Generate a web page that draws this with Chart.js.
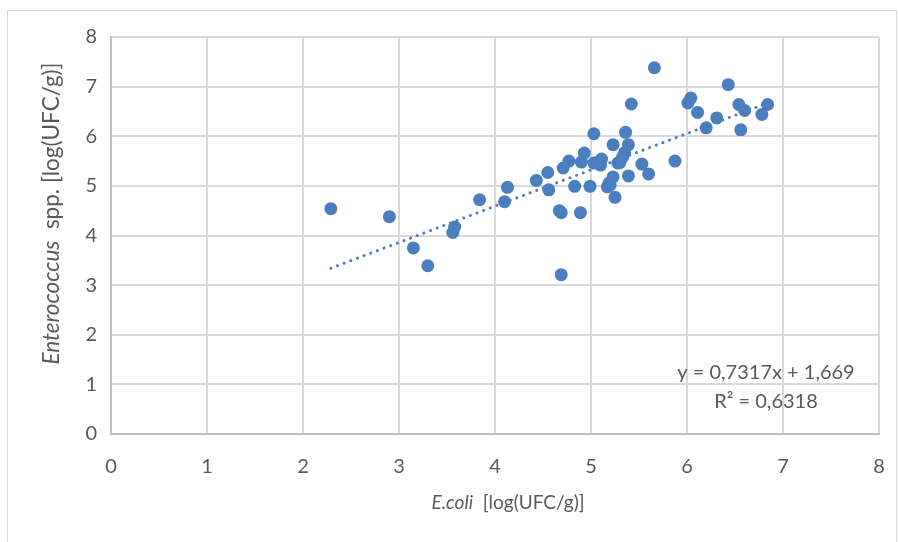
<!DOCTYPE html>
<html lang="pt">
<head>
<meta charset="UTF-8">
<title>E.coli x Enterococcus</title>
<style>
    body { margin: 0; background: #fff; }
    #wrap { position: relative; width: 899px; height: 542px; }
</style>
<script src="https://cdn.jsdelivr.net/npm/chart.js"></script>
</head>
<body>
<div id="wrap"><canvas id="grafico" width="899" height="542"></canvas></div>
<script>
    // E.coli [log(UFC/g)]
    var ecoli = [2.29, 2.90, 3.15, 3.30, 3.56, 3.58, 3.84, 4.10, 4.13, 4.43,
                 4.55, 4.56, 4.67, 4.69, 4.71, 4.77, 4.83, 4.89, 4.90, 4.93,
                 4.99, 5.03, 5.03, 5.11, 5.10, 5.17, 5.19, 5.23, 5.23, 5.25,
                 5.28, 5.33, 5.36, 5.39, 5.39, 5.35, 5.53, 5.60, 5.66, 5.42,
                 5.875, 6.01, 6.04, 6.11, 6.20, 6.31, 6.43, 6.54, 6.60, 6.56,
                 6.78, 6.84, 4.69, 5.20, 5.30];
    // Enterococcus spp. [log(UFC/g)]
    var entero = [4.54, 4.38, 3.75, 3.39, 4.06, 4.17, 4.72, 4.68, 4.97, 5.11,
                  5.27, 4.92, 4.50, 4.46, 5.36, 5.50, 4.99, 4.46, 5.48, 5.66,
                  4.99, 6.05, 5.46, 5.54, 5.42, 4.98, 5.06, 5.83, 5.18, 4.77,
                  5.46, 5.58, 6.08, 5.83, 5.20, 5.67, 5.44, 5.24, 7.38, 6.65,
                  5.50, 6.67, 6.77, 6.48, 6.17, 6.37, 7.04, 6.64, 6.52, 6.13,
                  6.44, 6.64, 3.21, 5.02, 5.47];
    // linha de tendencia (pontas)
    var tendX = [2.29, 6.84];
    var tendY = [3.34, 6.67];
    var equacao = ['y = 0,7317x + 1,669', 'R\u00b2 = 0,6318'];

    var azul = '#4a7ebf';
    var cinzaTexto = '#595959';
    var fonte = 'Lato, "Open Sans", sans-serif';

    var pontos = ecoli.map(function (x, i) { return { x: x, y: entero[i] }; });
    var tendencia = tendX.map(function (x, i) { return { x: x, y: tendY[i] }; });

    // moldura, titulos dos eixos (parte em italico) e equacao
    var textos = {
        id: 'textos',
        afterDraw: function (chart) {
            var c = chart.ctx;
            var a = chart.chartArea;
            c.save();
            c.strokeStyle = '#d9d9d9';
            c.lineWidth = 1;
            c.strokeRect(7.5, 10.5, 889, 540);

            c.fillStyle = cinzaTexto;
            c.textBaseline = 'middle';

            function misto(partes, tam, cx, cy) {
                var w = 0;
                partes.forEach(function (p) { c.font = p[1] + ' ' + tam + 'px ' + fonte; w += c.measureText(p[0]).width; });
                var x = cx - w / 2;
                c.textAlign = 'left';
                partes.forEach(function (p) {
                    c.font = p[1] + ' ' + tam + 'px ' + fonte;
                    c.fillText(p[0], x, cy);
                    x += c.measureText(p[0]).width;
                });
            }

            // titulo eixo x
            misto([['E.coli', 'italic'], ['  [log(UFC/g)]', 'normal']], 19, (a.left + a.right) / 2 + 13, a.bottom + 69);

            // titulo eixo y
            c.save();
            c.translate(52, (a.top + a.bottom) / 2 - 22);
            c.rotate(-Math.PI / 2);
            misto([['Enterococcus', 'italic'], ['  spp. [log(UFC/g)]', 'normal']], 22.5, 0, 0);
            c.restore();

            // equacao
            c.font = '20px ' + fonte;
            c.textAlign = 'center';
            c.fillText(equacao[0], 766, 373);
            c.fillText(equacao[1], 766, 402);
            c.restore();
        }
    };

    var ctx = document.getElementById('grafico').getContext('2d');
    var grafico = new Chart(ctx, {
        type: 'scatter',
        data: {
            datasets: [{
                label: 'Amostras',
                data: pontos,
                backgroundColor: azul,
                borderColor: azul,
                pointRadius: 6.5,
                pointHoverRadius: 6.5,
                borderWidth: 0,
                order: 1
            }, {
                label: 'Tendencia',
                type: 'line',
                data: tendencia,
                borderColor: azul,
                borderWidth: 3,
                borderDash: [0.1, 7],
                borderCapStyle: 'round',
                pointRadius: 0,
                fill: false,
                order: 2
            }]
        },
        options: {
            responsive: false,
            animation: false,
            layout: { padding: { left: 0, top: 37, right: 20, bottom: 0 } },
            plugins: {
                legend: { display: false },
                tooltip: { enabled: false }
            },
            scales: {
                x: {
                    type: 'linear',
                    min: 0, max: 8,
                    afterFit: function (s) { s.height = 108; s.paddingLeft = 0; s.paddingRight = 0; },
                    ticks: { stepSize: 1, color: cinzaTexto, padding: 21, font: { family: fonte, size: 20 } },
                    grid: { color: '#d9d9d9', lineWidth: 2, drawTicks: false },
                    border: { color: '#bfbfbf', width: 2 }
                },
                y: {
                    min: 0, max: 8,
                    afterFit: function (s) { s.width = 111; s.paddingTop = 0; s.paddingBottom = 0; },
                    ticks: { stepSize: 1, color: cinzaTexto, padding: 14, font: { family: fonte, size: 20 } },
                    grid: { color: '#d9d9d9', lineWidth: 2, drawTicks: false },
                    border: { color: '#bfbfbf', width: 2 }
                }
            }
        },
        plugins: [textos]
    });
</script>
</body>
</html>
